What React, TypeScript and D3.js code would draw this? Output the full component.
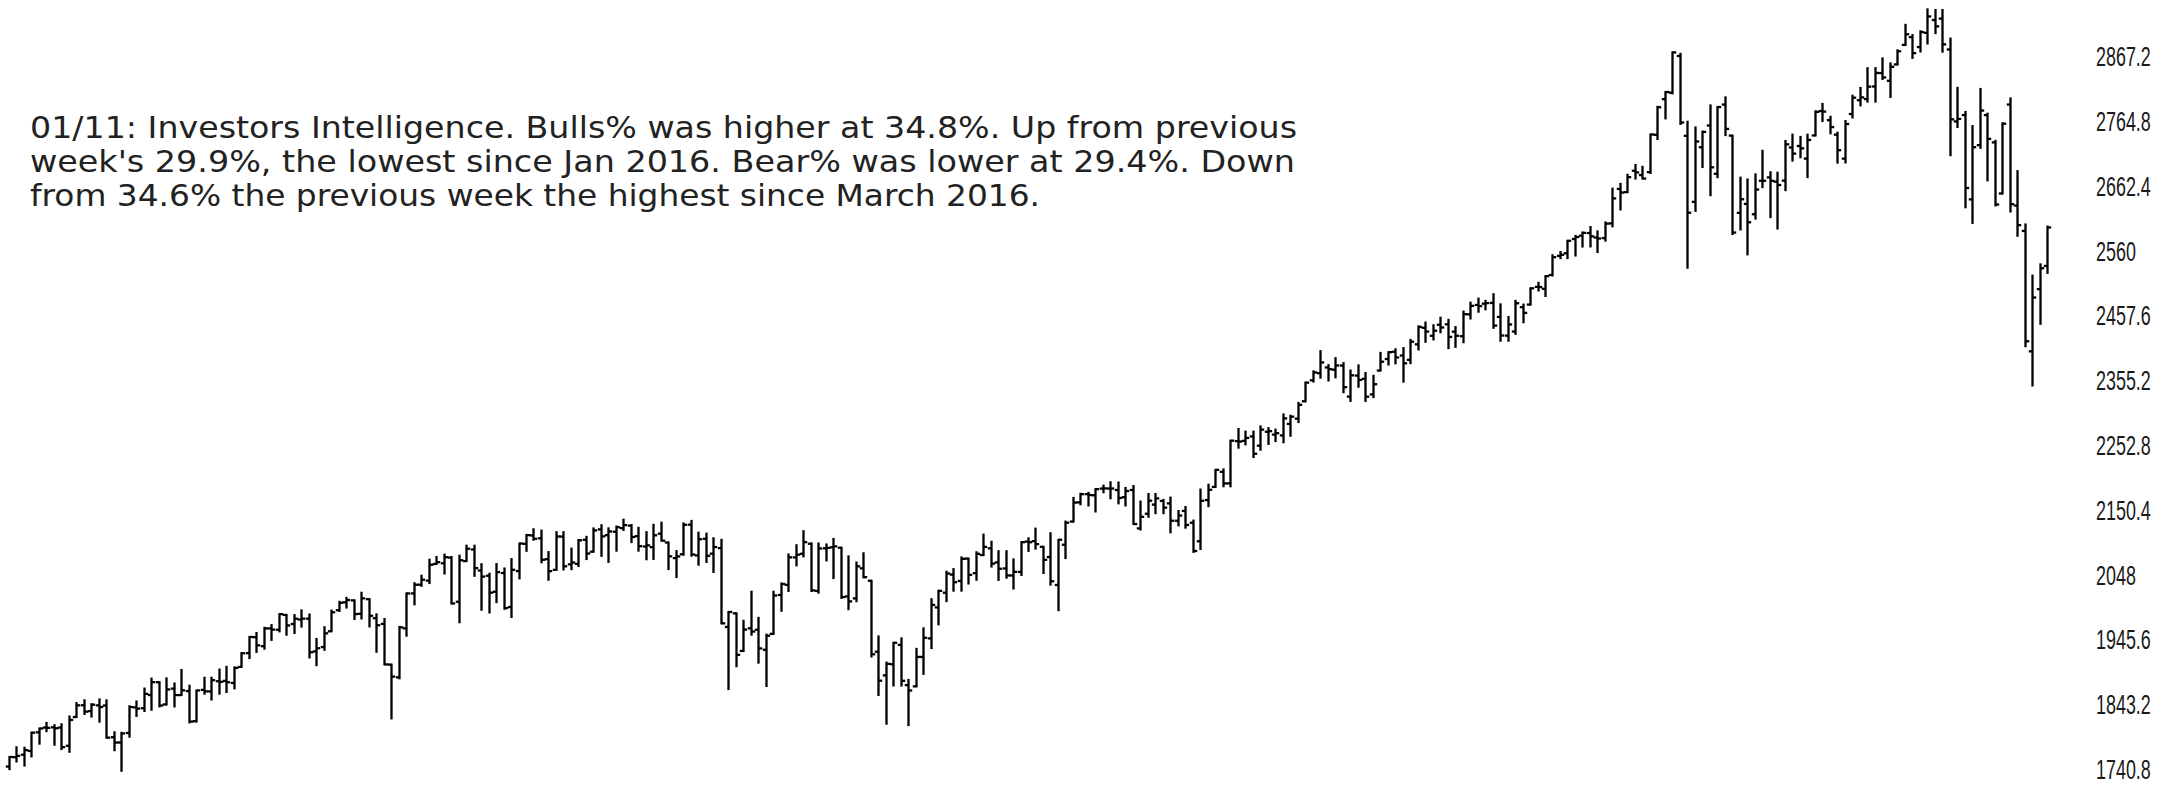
import React from "react";
import * as d3 from "d3";

// Weekly S&P 500 bars, week of 2013-10-21 through week of 2019-01-07
const firstWeek = "2013-10-21";

const opens = [
  // 2013
  1744.7, 1759.4, 1763.4, 1769.3, 1798.8, 1806.3, 1806.6, 1806.2, 1777.5, 1822.9, 1841.5,
  // 2014
  1832.3, 1841.3, 1841.1, 1791.0, 1782.7, 1797.7, 1838.2, 1836.8, 1857.7, 1877.9, 1842.8, 1867.7, 1857.6,
  1863.9, 1816.3, 1865.8, 1863.4, 1879.5, 1880.0, 1876.7, 1902.0, 1923.9, 1949.0, 1934.8, 1962.9, 1960.8,
  1984.2, 1969.9, 1976.9, 1978.3, 1926.5, 1933.4, 1958.4, 1991.7, 2004.1, 2007.2, 1986.0, 2009.1, 1979.0,
  1970.0, 1905.7, 1885.6, 1963.0, 2018.2, 2032.0, 2038.3, 2064.7, 2065.8, 2074.8, 2005.0, 2069.3, 2087.6,
  // 2015
  2054.4, 2046.1, 2020.8, 2050.4, 1996.7, 2053.5, 2096.5, 2109.8, 2105.2, 2072.3, 2055.4, 2108.0, 2064.1,
  2064.9, 2102.9, 2084.1, 2119.3, 2110.2, 2115.6, 2121.3, 2125.3, 2108.6, 2092.3, 2091.3, 2112.5, 2098.6,
  2074.0, 2080.0, 2126.8, 2078.2, 2104.5, 2081.0, 2089.7, 1965.2, 1986.7, 1927.3, 1963.1, 1960.8, 1929.2,
  1954.3, 2015.7, 2031.7, 2075.1, 2080.8, 2096.6, 2022.1, 2089.4, 2091.0, 2090.4, 2013.4, 2010.3, 2057.8,
  // 2016
  2038.2, 1926.1, 1888.7, 1906.3, 1936.9, 1873.3, 1871.4, 1917.8, 1947.1, 1996.1, 2019.3, 2047.9, 2037.9,
  2073.2, 2050.2, 2078.8, 2089.4, 2067.2, 2057.6, 2046.5, 2052.2, 2100.1, 2100.8, 2091.8, 2075.6, 2031.5,
  2095.1, 2131.7, 2162.0, 2175.0, 2173.2, 2183.8, 2183.9, 2181.6, 2170.2, 2181.6, 2120.9, 2144.0, 2158.5,
  2164.3, 2160.4, 2133.0, 2148.5, 2129.8, 2100.6, 2165.6, 2186.4, 2210.2, 2192.0, 2258.8, 2259.2, 2266.2,
  // 2017
  2251.6, 2273.6, 2269.1, 2267.8, 2286.0, 2294.3, 2321.7, 2354.9, 2366.1, 2375.2, 2371.6, 2378.2, 2329.1,
  2362.3, 2357.2, 2332.6, 2370.3, 2388.5, 2400.0, 2394.0, 2387.2, 2411.7, 2437.8, 2425.2, 2442.6, 2443.3,
  2431.7, 2424.5, 2459.1, 2473.9, 2475.9, 2477.1, 2455.0, 2425.5, 2431.9, 2470.4, 2474.5, 2502.5, 2499.4,
  2521.2, 2551.4, 2555.6, 2578.1, 2583.2, 2587.5, 2580.4, 2579.5, 2602.7, 2657.2, 2652.2, 2685.9, 2679.1,
  // 2018
  2683.7, 2742.7, 2799.0, 2809.2, 2867.2, 2741.1, 2636.8, 2723.0, 2757.4, 2681.1, 2790.5, 2741.4, 2619.4,
  2633.5, 2617.2, 2670.1, 2675.4, 2668.7, 2670.3, 2722.7, 2725.0, 2705.1, 2741.7, 2780.2, 2765.8, 2742.9,
  2705.0, 2775.6, 2797.4, 2799.2, 2819.0, 2840.3, 2828.0, 2853.9, 2884.7, 2897.0, 2881.4, 2903.8, 2924.0,
  2926.3, 2877.5, 2763.8, 2773.9, 2640.7, 2726.4, 2773.9, 2730.7, 2650.0, 2790.5, 2630.9, 2590.8, 2400.6,
  2498.9,
  // 2019
  2535.6,
];

const highs = [
  1759.8, 1775.2, 1774.5, 1798.2, 1804.8, 1813.6, 1810.0, 1811.5, 1823.8, 1844.9, 1849.4,
  1843.2, 1850.8, 1849.3, 1798.8, 1798.0, 1840.0, 1847.5, 1867.9, 1883.6, 1877.9, 1884.0, 1875.9, 1897.3,
  1872.5, 1864.9, 1884.9, 1885.0, 1897.9, 1902.2, 1901.3, 1924.0, 1949.4, 1955.6, 1963.9, 1968.2, 1985.6,
  1984.2, 1983.9, 1991.4, 1984.9, 1946.3, 1964.8, 1991.0, 2005.0, 2011.2, 2007.2, 2019.3, 2009.1, 1985.2,
  1977.8, 1905.7, 1965.3, 2018.2, 2034.3, 2046.2, 2071.5, 2075.8, 2079.5, 2075.8, 2077.9, 2093.6, 2093.6,
  2064.4, 2049.3, 2064.6, 2057.6, 2072.4, 2097.0, 2110.6, 2119.6, 2117.5, 2083.5, 2114.9, 2114.9, 2089.0,
  2102.6, 2107.6, 2120.9, 2125.9, 2121.0, 2123.9, 2134.7, 2126.2, 2121.9, 2115.0, 2126.6, 2129.9, 2098.6,
  2085.0, 2128.8, 2132.8, 2114.2, 2112.7, 2105.4, 2102.9, 1988.9, 1986.7, 1975.0, 2020.9, 1979.6, 1953.0,
  2020.9, 2034.0, 2079.7, 2094.3, 2116.5, 2097.3, 2097.1, 2095.6, 2104.3, 2090.4, 2076.7, 2067.0, 2081.6,
  2038.2, 1950.3, 1908.9, 1940.2, 1947.2, 1881.6, 1930.7, 1963.0, 2009.1, 2022.4, 2052.4, 2056.6, 2075.1,
  2073.2, 2083.2, 2111.1, 2099.9, 2084.9, 2084.9, 2071.9, 2099.3, 2105.3, 2120.6, 2091.8, 2113.3, 2102.7,
  2131.7, 2169.1, 2175.6, 2177.1, 2182.9, 2188.5, 2193.8, 2193.4, 2184.9, 2187.9, 2163.3, 2175.3, 2175.3,
  2165.9, 2169.6, 2148.4, 2154.8, 2133.3, 2182.3, 2189.9, 2213.3, 2214.1, 2259.5, 2278.0, 2273.8, 2273.8,
  2282.1, 2279.3, 2277.0, 2301.0, 2299.0, 2319.2, 2351.3, 2369.0, 2401.0, 2378.8, 2390.0, 2382.0, 2370.3,
  2378.4, 2366.4, 2362.0, 2398.2, 2399.3, 2403.9, 2405.8, 2418.7, 2440.2, 2446.2, 2441.9, 2453.8, 2450.4,
  2439.0, 2463.5, 2477.6, 2484.0, 2480.4, 2490.9, 2474.9, 2454.8, 2480.4, 2474.5, 2500.2, 2508.9, 2519.4,
  2552.5, 2557.6, 2575.4, 2583.0, 2588.4, 2597.0, 2590.1, 2604.2, 2657.7, 2665.2, 2679.6, 2695.0, 2692.1,
  2743.2, 2787.0, 2810.3, 2872.9, 2870.6, 2763.4, 2754.4, 2747.8, 2789.2, 2786.6, 2801.9, 2741.4, 2675.0,
  2672.1, 2680.3, 2717.5, 2683.6, 2682.9, 2732.9, 2743.0, 2739.4, 2742.9, 2779.9, 2791.5, 2771.2, 2746.1,
  2764.4, 2804.5, 2816.8, 2848.0, 2848.1, 2863.4, 2855.6, 2876.2, 2916.5, 2900.2, 2906.3, 2940.9, 2939.9,
  2939.9, 2894.8, 2816.9, 2778.9, 2756.6, 2815.2, 2776.0, 2733.2, 2760.9, 2800.2, 2685.4, 2601.1, 2520.3,
  2538.1,
  2597.8,
];

const lows = [
  1740.5, 1752.7, 1746.2, 1760.6, 1780.8, 1800.6, 1779.1, 1772.3, 1768.0, 1822.9, 1827.7,
  1823.7, 1815.5, 1790.3, 1770.4, 1737.9, 1791.8, 1824.6, 1832.4, 1834.4, 1839.6, 1842.8, 1839.6, 1857.6,
  1814.4, 1815.8, 1859.7, 1850.6, 1859.8, 1862.4, 1868.1, 1902.0, 1916.0, 1925.8, 1930.9, 1944.7, 1958.2,
  1952.9, 1955.6, 1965.8, 1917.0, 1904.8, 1929.1, 1958.4, 1990.5, 1995.8, 1977.9, 1978.6, 1966.0, 1926.0,
  1906.0, 1820.7, 1884.0, 1951.4, 2001.0, 2030.2, 2034.5, 2064.7, 2049.6, 2002.3, 1972.6, 2069.3, 2046.0,
  1992.4, 1988.1, 2004.5, 1993.9, 1980.9, 2041.9, 2085.4, 2103.0, 2067.3, 2039.7, 2055.4, 2056.0, 2056.5,
  2061.4, 2072.4, 2084.1, 2077.5, 2067.9, 2085.7, 2118.4, 2099.2, 2085.7, 2072.1, 2072.7, 2101.6, 2056.6,
  2044.0, 2079.3, 2077.7, 2063.5, 2067.9, 2052.1, 1970.9, 1867.0, 1903.1, 1927.3, 1953.0, 1908.8, 1871.9,
  1954.3, 1990.7, 2022.0, 2062.5, 2076.7, 2022.0, 2019.4, 2070.3, 2042.4, 2011.0, 1993.3, 2005.9, 2043.6,
  1918.5, 1857.8, 1812.3, 1872.7, 1872.6, 1810.1, 1871.4, 1891.0, 1931.8, 1969.3, 2006.0, 2022.5, 2022.5,
  2033.8, 2039.7, 2078.8, 2060.6, 2039.5, 2043.0, 2025.9, 2047.3, 2085.4, 2089.0, 2050.4, 2032.1, 1991.7,
  2074.0, 2131.7, 2159.0, 2157.1, 2147.6, 2178.0, 2168.5, 2160.4, 2157.1, 2127.8, 2119.1, 2139.2, 2145.0,
  2144.9, 2114.7, 2125.6, 2122.0, 2083.8, 2088.4, 2156.1, 2186.4, 2187.4, 2187.4, 2248.4, 2253.6, 2233.6,
  2245.1, 2254.3, 2258.8, 2257.0, 2267.2, 2288.9, 2321.7, 2352.9, 2358.9, 2354.5, 2359.6, 2336.0, 2322.3,
  2344.7, 2322.3, 2328.3, 2370.3, 2379.8, 2381.7, 2352.7, 2382.0, 2403.6, 2415.7, 2419.4, 2430.7, 2405.7,
  2407.7, 2415.0, 2452.5, 2463.2, 2467.0, 2437.8, 2417.3, 2417.4, 2428.2, 2446.6, 2474.5, 2496.7, 2488.0,
  2520.4, 2547.9, 2547.9, 2552.0, 2566.2, 2566.3, 2557.5, 2575.5, 2598.0, 2624.8, 2652.2, 2673.6, 2673.6,
  2682.4, 2736.1, 2768.6, 2808.1, 2759.8, 2532.7, 2622.5, 2691.8, 2647.3, 2675.8, 2742.2, 2585.9, 2593.1,
  2553.8, 2610.3, 2660.0, 2612.7, 2594.6, 2655.2, 2701.9, 2707.2, 2675.8, 2741.7, 2764.4, 2745.0, 2698.7,
  2699.0, 2770.0, 2789.2, 2795.1, 2795.1, 2831.0, 2802.5, 2853.8, 2884.7, 2864.1, 2874.3, 2886.9, 2903.3,
  2874.0, 2710.5, 2755.0, 2628.2, 2603.5, 2722.0, 2670.7, 2631.1, 2650.0, 2621.5, 2583.2, 2408.6, 2346.6,
  2444.0,
  2524.6,
];

const closes = [
  1759.8, 1761.6, 1770.6, 1798.2, 1804.8, 1805.8, 1805.1, 1775.3, 1818.3, 1841.4, 1831.4,
  1842.4, 1838.7, 1790.3, 1782.6, 1797.0, 1838.6, 1836.2, 1859.5, 1878.0, 1841.1, 1866.5, 1857.6, 1865.1,
  1815.7, 1864.9, 1863.4, 1881.1, 1878.5, 1877.9, 1900.5, 1923.6, 1949.4, 1936.2, 1962.9, 1961.0, 1985.4,
  1967.6, 1978.2, 1978.3, 1925.2, 1931.6, 1955.1, 1988.4, 2003.4, 2007.7, 1985.5, 2010.4, 1982.9, 1967.9,
  1906.1, 1886.8, 1964.6, 2018.1, 2031.9, 2039.8, 2063.5, 2067.6, 2075.4, 2002.3, 2070.6, 2088.8, 2058.2,
  2044.8, 2019.4, 2051.8, 1995.0, 2055.5, 2097.0, 2110.3, 2104.5, 2071.3, 2053.4, 2108.1, 2061.0, 2067.0,
  2102.1, 2081.2, 2117.7, 2108.3, 2116.1, 2122.7, 2126.1, 2107.4, 2092.8, 2094.1, 2110.0, 2101.5, 2076.8,
  2076.6, 2126.6, 2079.7, 2103.8, 2077.6, 2091.5, 1970.9, 1988.9, 1921.2, 1961.1, 1958.0, 1931.3, 1951.4,
  2014.9, 2033.1, 2075.2, 2079.4, 2099.2, 2023.0, 2089.2, 2090.1, 2092.5, 2012.4, 2005.6, 2061.0, 2043.9,
  1922.0, 1880.3, 1906.9, 1940.2, 1880.1, 1864.8, 1917.8, 1948.1, 2000.0, 2022.2, 2049.6, 2035.9, 2072.8,
  2047.6, 2080.7, 2091.6, 2065.3, 2057.1, 2046.6, 2052.3, 2099.1, 2099.1, 2096.1, 2071.2, 2037.4, 2103.0,
  2129.9, 2161.7, 2175.0, 2173.6, 2182.9, 2184.1, 2183.9, 2169.0, 2180.0, 2127.8, 2139.2, 2164.7, 2168.3,
  2153.7, 2133.0, 2141.2, 2126.4, 2085.2, 2164.5, 2181.9, 2213.4, 2192.0, 2259.5, 2258.1, 2263.8, 2238.8,
  2277.0, 2274.6, 2271.3, 2294.7, 2297.4, 2316.1, 2351.2, 2367.3, 2383.1, 2372.6, 2378.3, 2344.0, 2362.7,
  2355.5, 2329.0, 2348.7, 2384.2, 2399.3, 2390.9, 2381.7, 2415.8, 2439.1, 2431.8, 2433.2, 2438.3, 2423.4,
  2425.2, 2459.3, 2472.5, 2472.1, 2476.8, 2441.3, 2425.6, 2443.1, 2476.6, 2461.4, 2500.2, 2502.2, 2519.4,
  2549.3, 2553.2, 2575.2, 2581.1, 2587.8, 2582.3, 2578.9, 2602.4, 2642.2, 2651.5, 2675.8, 2683.3, 2673.6,
  2743.2, 2786.2, 2810.3, 2872.9, 2762.1, 2619.6, 2732.2, 2747.3, 2691.3, 2786.6, 2752.0, 2588.3, 2640.9,
  2604.5, 2656.3, 2670.1, 2669.9, 2663.4, 2727.7, 2713.0, 2721.3, 2734.6, 2779.0, 2779.4, 2754.9, 2718.4,
  2759.8, 2801.3, 2801.8, 2818.8, 2840.4, 2833.3, 2850.1, 2874.7, 2901.5, 2871.7, 2905.0, 2929.7, 2914.0,
  2885.6, 2767.1, 2767.8, 2658.7, 2723.1, 2781.0, 2736.3, 2632.6, 2760.2, 2633.1, 2600.0, 2416.6, 2485.7,
  2531.9,
  2596.3,
];

const tickLabels = [
  "1740.8", "1843.2", "1945.6", "2048", "2150.4", "2252.8",
  "2355.2", "2457.6", "2560", "2662.4", "2764.8", "2867.2",
];

const noteLines = [
  "01/11: Investors Intelligence. Bulls% was higher at 34.8%. Up from previous",
  "week's 29.9%, the lowest since Jan 2016. Bear% was lower at 29.4%. Down",
  "from 34.6% the previous week the highest since March 2016.",
];
const noteWidths = [1267, 1265, 1010];

const W = 2168;
const H = 787;

export default function App() {
  const weeks = d3.timeMonday.range(
    new Date(firstWeek + "T00:00:00"),
    d3.timeMonday.offset(new Date(firstWeek + "T00:00:00"), closes.length)
  );
  const bars = closes.map((c, i) => ({
    week: weeks[i],
    o: opens[i],
    h: highs[i],
    l: lows[i],
    c,
  }));

  const x = d3.scaleLinear().domain([0, bars.length - 1]).range([9, 2047]);
  const y = d3.scaleLinear().domain([1740.8, 2867.2]).range([769, 56]);
  const tick = 3.7;

  return (
    <svg
      width={W}
      height={H}
      style={{ position: "absolute", left: 0, top: 0, background: "#fff" }}
    >
      <rect width={W} height={H} fill="#fff" />
      <g stroke="#000" strokeWidth={2.3} fill="none">
        {bars.map((b, i) => {
          const cx = Math.round(x(i)) + 0.5;
          return (
            <g key={i}>
              <line x1={cx} x2={cx} y1={y(b.h) - 1} y2={y(b.l) + 1} />
              <line x1={cx - tick} x2={cx} y1={y(b.o)} y2={y(b.o)} />
              <line x1={cx} x2={cx + tick} y1={y(b.c)} y2={y(b.c)} />
            </g>
          );
        })}
      </g>
      <g fontFamily="'Liberation Sans', Arial, sans-serif" fontSize={28} fill="#1a1a1a">
        {tickLabels.map((t) => (
          <text
            key={t}
            transform={`translate(2096, ${y(+t)}) scale(0.64, 1)`}
            dy="0.36em"
          >
            {t}
          </text>
        ))}
      </g>
      <g fontFamily="'DejaVu Sans', Verdana, sans-serif" fontSize={30} fill="#222">
        {noteLines.map((t, i) => (
          <text
            key={i}
            x={30}
            y={138 + i * 34}
            textLength={noteWidths[i]}
            lengthAdjust="spacingAndGlyphs"
          >
            {t}
          </text>
        ))}
      </g>
    </svg>
  );
}
